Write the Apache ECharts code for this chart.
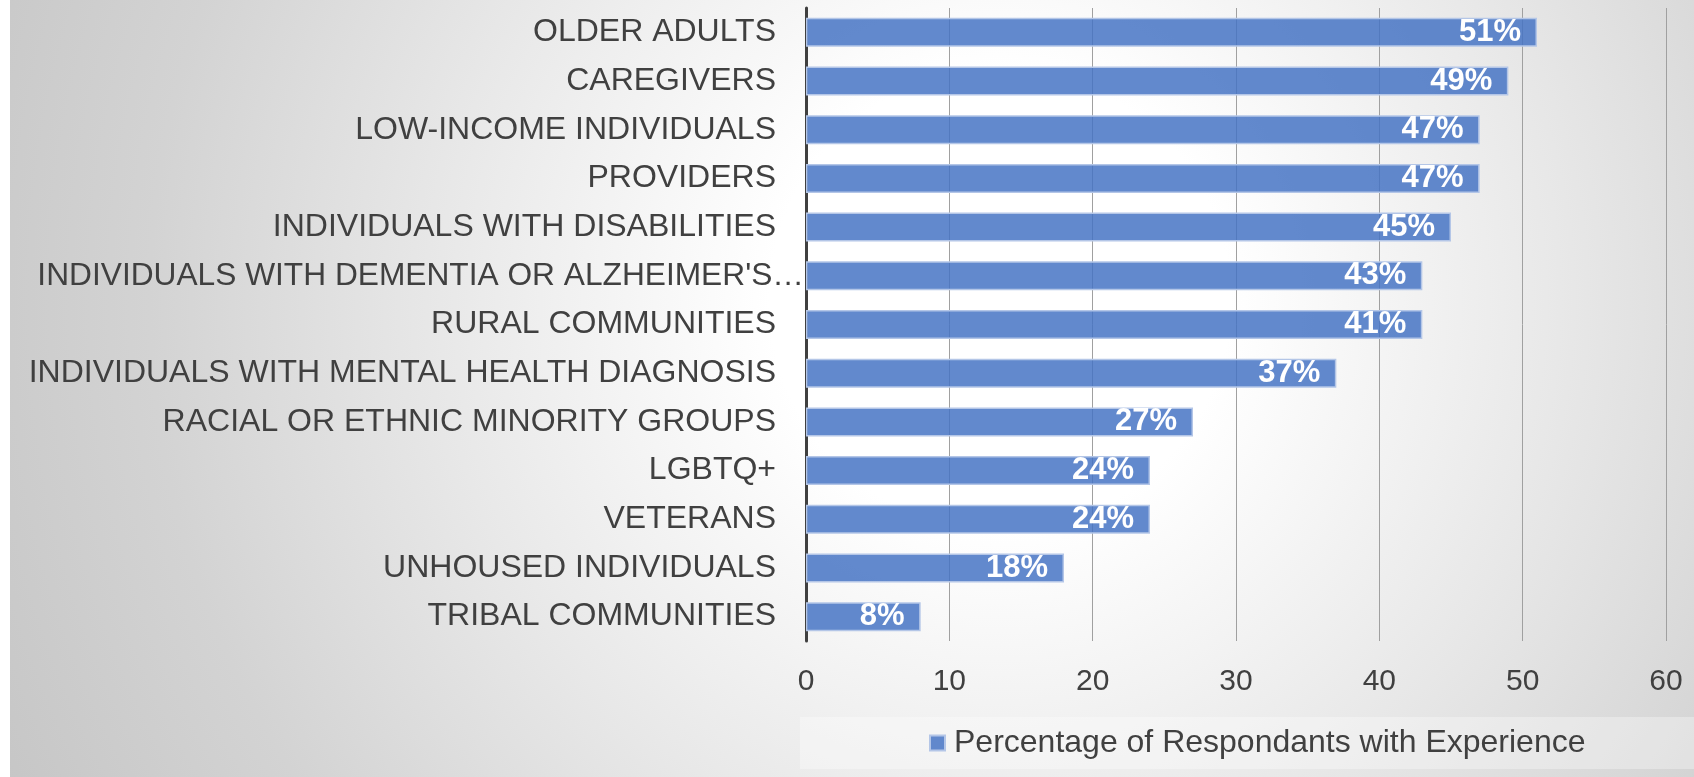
<!DOCTYPE html>
<html>
<head>
<meta charset="utf-8">
<script src="https://cdn.jsdelivr.net/npm/echarts@6/dist/echarts.min.js"></script>
<style>
  html, body { margin: 0; padding: 0; width: 1694px; height: 777px; overflow: hidden; background: #ffffff; }
  #bg { position: absolute; left: 10px; top: 0; width: 1684px; height: 777px;
        background: radial-gradient(circle at 990px 300px, #ffffff 0px, #ffffff 230px, #e8e8e8 560px, #d3d3d3 850px, #c4c4c4 1150px); }
  #chart { position: absolute; left: 0; top: 0; width: 1694px; height: 777px; }
</style>
</head>
<body>
<div id="bg"></div>
<div id="chart"></div>
<script>
const categories = [
  "OLDER ADULTS",
  "CAREGIVERS",
  "LOW-INCOME INDIVIDUALS",
  "PROVIDERS",
  "INDIVIDUALS WITH DISABILITIES",
  "INDIVIDUALS WITH DEMENTIA OR ALZHEIMER'S…",
  "RURAL COMMUNITIES",
  "INDIVIDUALS WITH MENTAL HEALTH DIAGNOSIS",
  "RACIAL OR ETHNIC MINORITY GROUPS",
  "LGBTQ+",
  "VETERANS",
  "UNHOUSED INDIVIDUALS",
  "TRIBAL COMMUNITIES"
];
// bar lengths as drawn in the reference
const values = [51, 49, 47, 47, 45, 43, 43, 37, 27, 24, 24, 18, 8];
// data labels as printed in the reference
const valueLabels = ["51%", "49%", "47%", "47%", "45%", "43%", "41%", "37%", "27%", "24%", "24%", "18%", "8%"];
const xTicks = [0, 10, 20, 30, 40, 50, 60];
const seriesName = "Percentage of Respondants with Experience";
const truncatedCategory = "INDIVIDUALS WITH DEMENTIA OR ALZHEIMER'S…";

const chart = echarts.init(document.getElementById('chart'), null, { renderer: 'canvas' });
const FONT = '"Liberation Sans", Arial, sans-serif';

chart.setOption({
  backgroundColor: 'transparent',
  animation: false,
  graphic: [{
    type: 'rect', z: -10, silent: true,
    shape: { x: 800, y: 717, width: 894, height: 52 },
    style: { fill: 'rgba(255,255,255,0.32)' }
  }],
  legend: {
    left: 929, top: 727, padding: 0,
    icon: 'rect', itemWidth: 15, itemHeight: 15,
    textStyle: { fontFamily: FONT, fontSize: 32, color: '#404040', padding: [0, 0, 0, 4] },
    data: [seriesName]
  },
  grid: { left: 806, right: 28, top: 8, bottom: 136, containLabel: false },
  xAxis: {
    type: 'value', min: xTicks[0], max: xTicks[xTicks.length - 1], interval: 10,
    axisLine: { show: false }, axisTick: { show: false },
    axisLabel: { fontFamily: FONT, fontSize: 30, color: '#404040', margin: 26 },
    splitLine: { show: true, lineStyle: { color: '#a0a0a0', width: 1 } }
  },
  yAxis: {
    type: 'category', inverse: true, data: categories,
    axisLine: { show: true, lineStyle: { color: '#404040', width: 3 } },
    axisTick: { show: false },
    axisLabel: {
      margin: 2, interval: 0,
      formatter: function (v) { return v === truncatedCategory ? '{t|' + v + '}' : '{n|' + v + '}'; },
      rich: {
        n: { fontFamily: FONT, fontSize: 32, color: '#404040', padding: [0, 28, 0, 0] },
        t: { fontFamily: FONT, fontSize: 31.7, color: '#404040', padding: [0, 0, 0, 0] }
      }
    }
  },
  series: [{
    name: seriesName, type: 'bar', barWidth: 29,
    data: values,
    itemStyle: { color: 'rgba(68,114,196,0.84)', borderColor: '#b4c6e7', borderWidth: 1.5 },
    label: {
      show: true, position: 'insideRight', distance: 16,
      formatter: function (p) { return valueLabels[p.dataIndex]; },
      fontFamily: FONT, fontSize: 31, fontWeight: 'bold', color: '#ffffff'
    },
    z: 2
  }]
});
</script>
</body>
</html>
